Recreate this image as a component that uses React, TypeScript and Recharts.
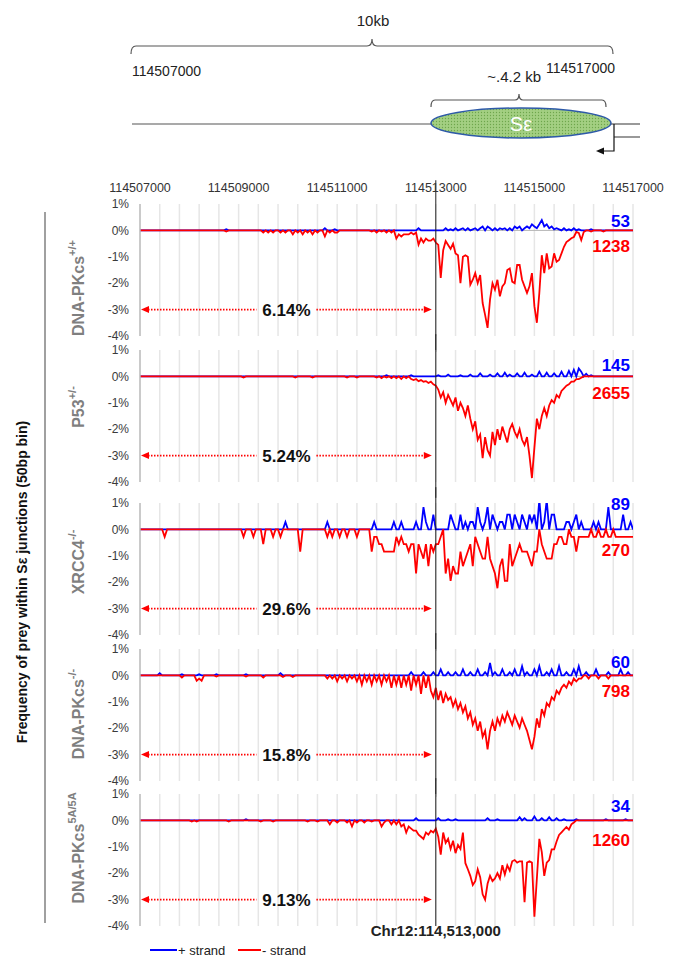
import React from 'react';
import { LineChart, Line, XAxis, YAxis, ReferenceLine, ReferenceDot } from 'recharts';

const FONT = '"Liberation Sans", Arial, Helvetica, sans-serif';

// ---------- genomic axis ----------
const POS_START = 114507000;
const POS_END = 114517000;
const POS_DIVIDE = 114513000;
const BIN_SIZE = 50;
const BIN_COUNT = 200;

const topTicks = [114507000, 114509000, 114511000, 114513000, 114515000, 114517000];
const yTicks = [-4, -3, -2, -1, 0, 1];
const gridTicks = [
  114507400, 114507800, 114508200, 114508600, 114509000, 114509400, 114509800, 114510200,
  114510600, 114511000, 114511400, 114511800, 114512200, 114512600, 114513000, 114513400,
  114513800, 114514200, 114514600, 114515000, 114515400, 114515800, 114516200, 114516600, 114517000,
];

// ---------- panel labels / totals ----------
const genotypes = ['DNA-PKcs', 'P53', 'XRCC4', 'DNA-PKcs', 'DNA-PKcs'];
const genotypeSups = ['+/+', '+/-', '-/-', '-/-', '5A/5A'];
const plusCounts = [53, 145, 89, 60, 34];
const minusCounts = [1238, 2655, 270, 798, 1260];
const upstreamPct = ['6.14%', '5.24%', '29.6%', '15.8%', '9.13%'];

// ---------- series: [bin index, % of junctions], unlisted bins are 0 ----------
const wtPlus: [number, number][] = [
  [35, 0.04], [75, 0.08], [79, 0.04], [113, 0.08], [124, 0.08], [126, 0.04], [128, 0.08], [130, 0.04],
  [131, 0.08], [133, 0.08], [135, 0.04], [136, 0.08], [138, 0.08], [139, 0.15], [141, 0.15], [142, 0.08],
  [144, 0.08], [146, 0.08], [147, 0.04], [148, 0.08], [150, 0.08], [152, 0.15], [153, 0.08], [154, 0.15],
  [156, 0.08], [157, 0.15], [158, 0.08], [159, 0.23], [160, 0.15], [161, 0.08], [162, 0.23], [163, 0.39],
  [164, 0.15], [165, 0.23], [166, 0.08], [167, 0.15], [168, 0.04], [169, 0.08], [170, 0.04], [172, 0.08],
  [174, 0.04], [176, 0.08], [178, 0.04], [183, 0.04],
];
const wtMinus: [number, number][] = [
  [35, -0.04], [50, -0.08], [52, -0.08], [54, -0.08], [57, -0.08], [59, -0.08], [62, -0.15], [64, -0.08],
  [66, -0.15], [68, -0.08], [70, -0.15], [72, -0.08], [75, -0.23], [77, -0.08], [79, -0.08], [80, -0.08],
  [94, -0.04], [96, -0.08], [98, -0.04], [100, -0.08], [102, -0.08], [104, -0.31], [105, -0.15], [106, -0.23],
  [107, -0.15], [108, -0.15], [109, -0.15], [110, -0.08], [111, -0.15], [112, -0.08], [113, -0.54], [114, -0.31],
  [115, -0.46], [116, -0.31], [117, -0.39], [118, -0.39], [119, -0.31], [120, -0.46], [121, -0.55], [122, -1.8],
  [123, -0.75], [124, -0.4], [125, -0.55], [126, -0.7], [127, -0.5], [128, -0.87], [129, -0.94], [130, -2.0],
  [131, -1.0], [132, -0.94], [133, -1.0], [134, -2.06], [135, -1.87], [136, -1.62], [137, -2.0], [138, -1.69],
  [139, -2.75], [140, -3.2], [141, -3.69], [142, -2.62], [143, -2.0], [144, -2.25], [145, -1.87], [146, -2.5],
  [147, -2.12], [148, -2.0], [149, -1.5], [150, -1.44], [151, -1.94], [152, -2.0], [153, -1.31], [154, -1.31],
  [155, -1.87], [156, -2.12], [157, -2.37], [158, -2.12], [159, -1.62], [160, -2.87], [161, -3.5], [162, -2.37],
  [163, -0.94], [164, -1.62], [165, -0.87], [166, -1.44], [167, -1.37], [168, -0.87], [169, -1.19], [170, -1.12],
  [171, -0.87], [172, -0.62], [173, -0.44], [174, -0.37], [175, -0.3], [176, -0.25], [177, -0.06], [178, -0.1],
  [179, -0.37], [180, -0.06], [183, -0.04], [188, -0.04],
];

const p53Plus: [number, number][] = [
  [100, 0.04], [110, 0.04], [121, 0.04], [125, 0.07], [130, 0.04], [134, 0.07], [138, 0.11], [142, 0.07],
  [145, 0.11], [148, 0.14], [150, 0.07], [153, 0.11], [156, 0.14], [159, 0.07], [162, 0.18], [165, 0.14],
  [168, 0.11], [171, 0.18], [174, 0.21], [176, 0.25], [178, 0.3], [179, 0.18], [181, 0.1], [183, 0.04],
];
const p53Minus: [number, number][] = [
  [42, -0.04], [63, -0.04], [70, -0.04], [84, -0.04], [88, -0.04], [96, -0.04], [98, -0.07], [100, -0.04],
  [102, -0.07], [104, -0.07], [106, -0.1], [108, -0.07], [110, -0.1], [111, -0.14], [112, -0.1], [113, -0.18],
  [114, -0.14], [115, -0.2], [116, -0.18], [117, -0.25], [118, -0.2], [119, -0.3], [120, -0.35], [121, -0.5],
  [122, -0.8], [123, -0.6], [124, -1.0], [125, -0.7], [126, -0.9], [127, -1.1], [128, -0.8], [129, -1.3],
  [130, -1.0], [131, -1.2], [132, -1.5], [133, -1.1], [134, -1.6], [135, -2.0], [136, -1.7], [137, -2.4],
  [138, -2.2], [139, -3.1], [140, -2.3], [141, -2.8], [142, -3.0], [143, -2.1], [144, -2.6], [145, -2.0],
  [146, -2.4], [147, -1.9], [148, -2.2], [149, -2.5], [150, -2.0], [151, -1.8], [152, -2.1], [153, -2.3],
  [154, -2.0], [155, -2.4], [156, -2.6], [157, -2.3], [158, -3.0], [159, -3.85], [160, -2.7], [161, -1.6],
  [162, -2.0], [163, -1.5], [164, -1.2], [165, -1.5], [166, -1.1], [167, -0.9], [168, -1.0], [169, -0.7],
  [170, -0.8], [171, -0.55], [172, -0.45], [173, -0.35], [174, -0.3], [175, -0.2], [176, -0.2], [177, -0.1],
  [178, -0.1], [179, -0.05],
];

const xrccPlus: [number, number][] = [
  [59, 0.28], [76, 0.28], [95, 0.28], [103, 0.28], [106, 0.28], [112, 0.28], [115, 0.84], [116, 0.28],
  [119, 0.56], [126, 0.56], [127, 0.28], [130, 0.56], [132, 0.28], [134, 0.28], [135, 0.28], [137, 0.84],
  [138, 0.28], [140, 0.28], [141, 0.84], [143, 0.56], [144, 0.28], [146, 0.28], [147, 0.28], [149, 0.56],
  [150, 0.56], [152, 0.56], [153, 0.28], [155, 0.56], [156, 0.28], [158, 0.56], [159, 0.28], [160, 0.56],
  [162, 1.11], [164, 0.28], [165, 1.11], [167, 0.56], [168, 0.56], [173, 0.28], [174, 0.28], [176, 0.28],
  [177, 0.56], [179, 0.28], [184, 0.28], [186, 0.28], [190, 0.84], [196, 0.56], [199, 0.28],
];
const xrccMinus: [number, number][] = [
  [10, -0.28], [42, -0.28], [46, -0.28], [50, -0.56], [54, -0.28], [57, -0.28], [65, -0.84], [76, -0.28],
  [78, -0.28], [81, -0.28], [84, -0.28], [88, -0.28], [94, -0.84], [95, -0.28], [96, -0.28], [97, -0.56],
  [98, -0.56], [99, -0.84], [100, -0.84], [101, -0.84], [102, -0.84], [103, -0.84], [104, -0.28], [105, -0.56],
  [106, -0.28], [107, -0.56], [108, -0.56], [109, -0.84], [110, -0.56], [111, -0.56], [112, -1.67], [113, -0.56],
  [114, -0.84], [115, -1.11], [116, -0.56], [117, -1.39], [118, -0.56], [119, -0.84], [120, -0.56], [121, -0.56],
  [122, -0.28], [124, -1.67], [125, -1.11], [126, -1.95], [127, -1.39], [128, -1.67], [129, -1.67], [130, -0.84],
  [131, -1.39], [132, -1.11], [133, -0.84], [134, -0.56], [135, -1.39], [136, -0.28], [137, -0.56], [138, -0.84],
  [139, -1.11], [140, -1.11], [141, -0.28], [142, -1.11], [143, -1.39], [144, -1.67], [145, -2.23], [146, -1.39],
  [147, -1.11], [148, -1.95], [149, -1.95], [150, -0.56], [151, -1.39], [152, -1.11], [153, -0.84], [154, -0.56],
  [155, -0.84], [156, -0.84], [157, -0.84], [158, -1.11], [159, -1.39], [160, -0.84], [161, -0.84], [163, -0.56],
  [164, -0.84], [165, -1.11], [166, -1.11], [167, -1.11], [168, -0.56], [169, -0.56], [170, -0.28], [171, -0.28],
  [172, -0.56], [173, -0.56], [175, -0.28], [176, -0.28], [177, -0.84], [178, -0.28], [179, -0.28], [180, -0.28],
  [181, -0.28], [182, -0.28], [184, -0.28], [185, -0.28], [187, -0.28], [188, -0.28], [190, -0.28], [191, -0.28],
  [193, -0.28], [194, -0.28], [195, -0.28], [196, -0.28], [197, -0.28], [198, -0.28], [199, -0.28], [200, -0.28],
];

const pkNullPlus: [number, number][] = [
  [8, 0.08], [17, 0.04], [24, 0.04], [31, 0.04], [43, 0.04], [57, 0.08], [110, 0.12], [115, 0.12],
  [119, 0.12], [122, 0.23], [125, 0.12], [128, 0.12], [131, 0.23], [134, 0.12], [137, 0.23], [140, 0.12],
  [142, 0.47], [144, 0.12], [147, 0.23], [150, 0.12], [152, 0.23], [155, 0.35], [157, 0.12], [160, 0.23],
  [162, 0.35], [165, 0.12], [167, 0.23], [170, 0.35], [173, 0.12], [176, 0.23], [178, 0.35], [181, 0.12],
  [185, 0.23], [190, 0.12], [195, 0.23], [198, 0.12],
];
const pkNullMinus: [number, number][] = [
  [17, -0.08], [23, -0.2], [24, -0.12], [25, -0.2], [31, -0.04], [43, -0.04], [50, -0.08], [58, -0.06],
  [62, -0.06], [76, -0.12], [78, -0.12], [80, -0.23], [82, -0.12], [84, -0.23], [86, -0.12], [88, -0.23],
  [90, -0.35], [92, -0.23], [94, -0.35], [96, -0.23], [98, -0.35], [100, -0.23], [102, -0.47], [104, -0.35],
  [106, -0.47], [108, -0.35], [110, -0.58], [112, -0.35], [114, -0.7], [116, -0.47], [118, -0.58], [119, -0.82],
  [120, -0.47], [121, -0.93], [122, -0.58], [123, -1.05], [124, -0.7], [125, -0.93], [126, -0.82], [127, -1.17],
  [128, -0.93], [129, -1.28], [130, -1.05], [131, -1.4], [132, -1.17], [133, -1.63], [134, -1.4], [135, -1.87],
  [136, -1.63], [137, -2.1], [138, -1.75], [139, -2.33], [140, -2.1], [141, -2.8], [142, -2.1], [143, -1.75],
  [144, -2.1], [145, -1.63], [146, -1.87], [147, -1.52], [148, -1.75], [149, -1.4], [150, -1.63], [151, -1.87],
  [152, -1.52], [153, -1.75], [154, -1.98], [155, -1.63], [156, -1.87], [157, -2.1], [158, -2.45], [159, -2.8],
  [160, -2.33], [161, -1.63], [162, -1.98], [163, -1.28], [164, -1.52], [165, -1.05], [166, -1.17], [167, -0.82],
  [168, -0.93], [169, -0.58], [170, -0.7], [171, -0.47], [172, -0.35], [173, -0.47], [174, -0.23], [175, -0.35],
  [176, -0.12], [177, -0.23], [178, -0.12], [179, -0.12], [182, -0.12], [186, -0.12], [190, -0.12],
];

const pk5aPlus: [number, number][] = [
  [43, 0.04], [112, 0.08], [121, 0.08], [125, 0.04], [128, 0.04], [141, 0.08], [145, 0.04], [154, 0.12],
  [156, 0.08], [160, 0.15], [163, 0.08], [166, 0.12], [169, 0.08], [172, 0.04], [177, 0.04], [189, 0.04],
  [197, 0.04],
];
const pk5aMinus: [number, number][] = [
  [21, -0.04], [23, -0.04], [36, -0.04], [49, -0.04], [54, -0.04], [68, -0.04], [72, -0.04], [77, -0.15],
  [80, -0.08], [84, -0.08], [86, -0.23], [88, -0.08], [91, -0.08], [94, -0.04], [98, -0.23], [99, -0.08],
  [102, -0.15], [104, -0.15], [106, -0.23], [107, -0.15], [108, -0.46], [109, -0.23], [110, -0.31], [111, -0.39],
  [112, -0.39], [113, -0.54], [114, -0.62], [115, -0.7], [116, -0.46], [117, -0.54], [118, -0.39], [119, -0.46],
  [120, -0.31], [121, -0.62], [122, -1.3], [123, -0.46], [124, -0.85], [125, -0.7], [126, -1.08], [127, -0.77],
  [128, -1.24], [129, -0.93], [130, -1.08], [131, -0.46], [132, -1.62], [133, -1.85], [134, -2.1], [135, -2.45],
  [136, -2.3], [137, -1.85], [138, -2.15], [139, -2.8], [140, -3.0], [141, -2.4], [142, -2.1], [143, -2.3],
  [144, -2.2], [145, -2.0], [146, -2.2], [147, -1.7], [148, -2.05], [149, -1.7], [150, -1.9], [151, -1.55],
  [152, -1.5], [153, -1.6], [154, -1.55], [155, -1.55], [156, -3.1], [157, -1.6], [158, -1.55], [159, -1.6],
  [160, -3.65], [161, -2.2], [162, -0.7], [163, -1.2], [164, -2.1], [165, -1.6], [166, -1.5], [167, -1.1],
  [168, -1.1], [169, -0.8], [170, -0.55], [171, -0.45], [172, -0.35], [173, -0.25], [174, -0.35], [175, -0.15],
  [176, -0.08],
];

const plusSeries = [wtPlus, p53Plus, xrccPlus, pkNullPlus, pk5aPlus];
const minusSeries = [wtMinus, p53Minus, xrccMinus, pkNullMinus, pk5aMinus];

function buildRows(plus: [number, number][], minus: [number, number][]) {
  const p = new Map(plus);
  const m = new Map(minus);
  const rows: { pos: number; plus: number; minus: number }[] = [];
  for (let i = 0; i <= BIN_COUNT; i++) {
    rows.push({ pos: POS_START + i * BIN_SIZE, plus: p.get(i) ?? 0, minus: m.get(i) ?? 0 });
  }
  return rows;
}
const panelRows = plusSeries.map((p, i) => buildRows(p, minusSeries[i]));

// ---------- layout ----------
const W = 679;
const H = 956;
const PLOT_LEFT = 140;
const PLOT_RIGHT = 633;
const PLOT_H = 132;
const AXIS_SPACE = 25;
const BOTTOM_SPACE = 20;
const CHART_H = AXIS_SPACE + PLOT_H + BOTTOM_SPACE;
const plotTops = [204, 350, 502.5, 649, 793.5];
const nameCenters = [288, 407, 562, 714, 848];
const plusLabelY = [0.35, 0.42, 0.95, 0.48, 0.53];
const minusLabelY = [-0.62, -0.64, -0.8, -0.62, -0.76];
const dividerTop = [1.9, 1.6, 1.6, 1.6, 1.6];
const dividerBottom = [-4.6, -4.6, -4.6, -4.6, -4.0];

function PctArrow(props: any) {
  const { x1, y1, x2, text } = props;
  const y = y1;
  const tipL = x1 + 1;
  const tipR = x2 - 4;
  const mid = (tipL + tipR) / 2;
  const gap = 30;
  return (
    <g>
      <line x1={tipL + 7} y1={y} x2={mid - gap} y2={y} stroke="#ff0000" strokeWidth={1.6} strokeDasharray="1.5 1.5" />
      <line x1={mid + gap} y1={y} x2={tipR - 7} y2={y} stroke="#ff0000" strokeWidth={1.6} strokeDasharray="1.5 1.5" />
      <polygon points={`${tipL},${y} ${tipL + 8},${y - 3.5} ${tipL + 8},${y + 3.5}`} fill="#ff0000" />
      <polygon points={`${tipR},${y} ${tipR - 8},${y - 3.5} ${tipR - 8},${y + 3.5}`} fill="#ff0000" />
      <text x={mid} y={y + 1} textAnchor="middle" dominantBaseline="central" fontSize={17} fontWeight="bold" fill="#111" fontFamily={FONT}>
        {text}
      </text>
    </g>
  );
}

function CountText(props: any) {
  const { cx, cy, color, value } = props;
  return (
    <text x={cx - 3} y={cy} textAnchor="end" dominantBaseline="central" fontSize={17} fontWeight="bold" fill={color} fontFamily={FONT}>
      {value}
    </text>
  );
}

function Panel({ idx }: { idx: number }) {
  const first = idx === 0;
  return (
    <div style={{ position: 'absolute', left: 0, top: plotTops[idx] - AXIS_SPACE, width: W, height: CHART_H }}>
      <LineChart
        width={W}
        height={CHART_H}
        data={panelRows[idx]}
        margin={{ top: first ? 0 : AXIS_SPACE, right: W - PLOT_RIGHT, bottom: BOTTOM_SPACE, left: 0 }}
      >
        <XAxis
          dataKey="pos"
          type="number"
          domain={[POS_START, POS_END]}
          ticks={topTicks}
          interval={0}
          orientation="top"
          hide={!first}
          height={AXIS_SPACE}
          axisLine={false}
          tickLine={false}
          tickSize={0}
          tickMargin={12}
          allowDataOverflow
          tick={{ fontSize: 12.5, fill: '#333', fontFamily: FONT }}
        />
        <YAxis
          domain={[-4, 1]}
          ticks={yTicks}
          interval={0}
          width={PLOT_LEFT}
          allowDataOverflow
          tickFormatter={(v: number) => `${v}%`}
          axisLine={{ stroke: '#b8b8b8', strokeWidth: 1.5 }}
          tickLine={false}
          tickSize={0}
          tickMargin={11}
          tick={{ fontSize: 12, fill: '#3a3a3a', fontFamily: FONT }}
        />
        {gridTicks.map((g) => (
          <ReferenceLine key={g} x={g} stroke="#e6e6e6" strokeWidth={1.5} />
        ))}
        <ReferenceLine y={0} stroke="#b5b5b5" strokeWidth={1} />
        <Line dataKey="plus" stroke="#0000ff" strokeWidth={1.8} dot={false} isAnimationActive={false} />
        <Line dataKey="minus" stroke="#ff0000" strokeWidth={1.8} dot={false} isAnimationActive={false} />
        <ReferenceLine
          segment={[{ x: POS_DIVIDE, y: dividerTop[idx] }, { x: POS_DIVIDE, y: dividerBottom[idx] }]}
          stroke="#222"
          strokeWidth={1}
          ifOverflow="visible"
        />
        <ReferenceLine
          segment={[{ x: POS_START, y: -3 }, { x: POS_DIVIDE, y: -3 }]}
          ifOverflow="visible"
          shape={(p: any) => <PctArrow {...p} text={upstreamPct[idx]} />}
        />
        <ReferenceDot
          x={POS_END}
          y={plusLabelY[idx]}
          r={1}
          ifOverflow="visible"
          shape={(p: any) => <CountText cx={p.cx} cy={p.cy} color="#0000ff" value={plusCounts[idx]} />}
        />
        <ReferenceDot
          x={POS_END}
          y={minusLabelY[idx]}
          r={1}
          ifOverflow="visible"
          shape={(p: any) => <CountText cx={p.cx} cy={p.cy} color="#ff0000" value={minusCounts[idx]} />}
        />
      </LineChart>
    </div>
  );
}

function Diagram() {
  const dividerX = PLOT_LEFT + ((POS_DIVIDE - POS_START) / (POS_END - POS_START)) * (PLOT_RIGHT - PLOT_LEFT);
  return (
    <svg width={W} height={H} style={{ position: 'absolute', left: 0, top: 0 }}>
      <defs>
        <pattern id="dots" width="3" height="3" patternUnits="userSpaceOnUse">
          <rect width="3" height="3" fill="#a3cf82" />
          <circle cx="1.5" cy="1.5" r="0.65" fill="#6ea64c" />
        </pattern>
      </defs>
      {/* 10 kb region */}
      <text x={373} y={20} textAnchor="middle" dominantBaseline="central" fontSize={15} fill="#222" fontFamily={FONT}>10kb</text>
      <path d="M131,54 Q131,46 136,46 L367,46 Q372,46 372,39 Q372,46 377,46 L608,46 Q613,46 613,54" fill="none" stroke="#555" strokeWidth={1.2} />
      <text x={132} y={71} dominantBaseline="central" fontSize={14} fill="#222" fontFamily={FONT}>114507000</text>
      <text x={615} y={68} textAnchor="end" dominantBaseline="central" fontSize={14} fill="#222" fontFamily={FONT}>114517000</text>
      <text x={541} y={76} textAnchor="end" dominantBaseline="central" fontSize={15} fill="#222" fontFamily={FONT}>~.4.2 kb</text>
      <path d="M431,107 Q431,100 435,100 L515,100 Q519,100 519,94 Q519,100 523,100 L602,100 Q606,100 606,107" fill="none" stroke="#555" strokeWidth={1.2} />
      <line x1={132} y1={124} x2={432} y2={124} stroke="#555" strokeWidth={1.2} />
      <line x1={610} y1={124} x2={640} y2={124} stroke="#555" strokeWidth={1.2} />
      <line x1={614} y1={137} x2={640} y2={137} stroke="#555" strokeWidth={1.2} />
      <polyline points="614,124 614,151 603,151" fill="none" stroke="#111" strokeWidth={1.2} />
      <polygon points="596,151 604,147.5 604,154.5" fill="#111" />
      <ellipse cx={521} cy={123} rx={90} ry={15} fill="url(#dots)" stroke="#2e5aa8" strokeWidth={1.5} />
      <text x={521} y={124} textAnchor="middle" dominantBaseline="central" fontSize={20} fill="#ffffff" fontFamily={FONT}>Sε</text>

      {/* left annotations */}
      <line x1={45} y1={212} x2={45} y2={923} stroke="#808080" strokeWidth={1.5} />
      <text
        x={22}
        y={582}
        transform={`rotate(-90 22 582)`}
        textAnchor="middle"
        dominantBaseline="central"
        fontSize={14}
        fontWeight="bold"
        fill="#111"
        fontFamily={FONT}
      >
        Frequency of prey within Sε junctions (50bp bin)
      </text>
      {genotypes.map((g, i) => (
        <text
          key={i}
          x={78}
          y={nameCenters[i]}
          transform={`rotate(-90 78 ${nameCenters[i]})`}
          textAnchor="middle"
          dominantBaseline="central"
          fontSize={16}
          fontWeight="bold"
          fill="#7f7f7f"
          fontFamily={FONT}
        >
          {g}
          <tspan fontSize={11} dy={-6}>{genotypeSups[i]}</tspan>
        </text>
      ))}

      {/* bottom label & legend */}
      <text x={dividerX} y={930} textAnchor="middle" dominantBaseline="central" fontSize={15} fontWeight="bold" fill="#222" fontFamily={FONT}>
        Chr12:114,513,000
      </text>
      <line x1={150} y1={950} x2={177} y2={950} stroke="#0000ff" strokeWidth={2} />
      <text x={178} y={950} dominantBaseline="central" fontSize={13} fill="#222" fontFamily={FONT}>+ strand</text>
      <line x1={238} y1={950} x2={261} y2={950} stroke="#ff0000" strokeWidth={2} />
      <text x={262} y={950} dominantBaseline="central" fontSize={13} fill="#222" fontFamily={FONT}>- strand</text>
    </svg>
  );
}

export default function App() {
  return (
    <div style={{ position: 'absolute', left: 0, top: 0, width: W, height: H, background: '#fff', fontFamily: FONT }}>
      <Diagram />
      {[0, 1, 2, 3, 4].map((i) => (
        <Panel key={i} idx={i} />
      ))}
    </div>
  );
}
